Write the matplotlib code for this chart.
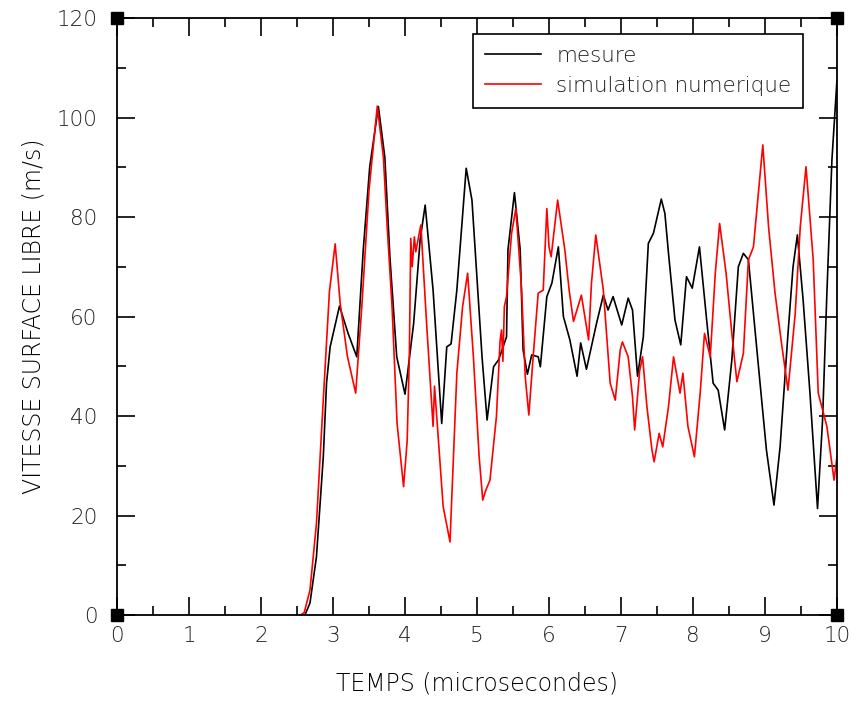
import numpy as np
import matplotlib
matplotlib.use("Agg")
import matplotlib.pyplot as plt
from matplotlib.ticker import MultipleLocator

# mesure (courbe noire)
t_mesure = [2.55, 2.61, 2.68, 2.77, 2.865, 2.91, 2.96, 3.09, 3.21, 3.33, 3.42, 3.51,
            3.63, 3.72, 3.79, 3.885, 4.0, 4.12, 4.21, 4.28, 4.39, 4.51, 4.58, 4.64,
            4.72, 4.85, 4.93, 5.07, 5.14, 5.23, 5.30, 5.41, 5.43, 5.52, 5.60, 5.64,
            5.70, 5.76, 5.85, 5.88, 5.97, 6.04, 6.13, 6.20, 6.29, 6.39, 6.44, 6.52,
            6.66, 6.755, 6.82, 6.89, 7.01, 7.10, 7.16, 7.23, 7.31, 7.38, 7.45, 7.56,
            7.61, 7.66, 7.75, 7.83, 7.91, 7.99, 8.09, 8.19, 8.28, 8.35, 8.44, 8.54,
            8.63, 8.70, 8.77, 8.91, 9.02, 9.125, 9.21, 9.32, 9.39, 9.45, 9.53, 9.625,
            9.73, 9.80, 9.86, 9.93, 10.0]
v_mesure = [0, 0, 2.4, 11.7, 31.8, 46.6, 53.9, 62.1, 56.6, 51.9, 73.4, 90.1,
            102.2, 92, 72, 51.9, 44.4, 58.6, 75.4, 82.4, 65.3, 38.5, 53.9, 54.5,
            65.3, 89.8, 83.4, 51.9, 39.2, 49.9, 51.3, 55.9, 73.4, 84.9, 73.4, 53.3,
            48.4, 52.3, 51.9, 49.9, 64, 66.7, 74, 60, 55.3, 48, 54.7, 49.4,
            58.6, 64.3, 61.3, 64, 58.3, 63.7, 61.3, 48, 55.9, 74.7, 76.7, 83.6,
            80.7, 72.7, 59.3, 54.3, 68, 65.7, 74, 59.3, 46.6, 45.2, 37.2, 51.3,
            70, 72.7, 71.4, 49.9, 33.2, 22.1, 33.8, 56.6, 70, 76.4, 63.3, 44.6,
            21.4, 39.2, 64.7, 91.5, 107.5]

# simulation numerique (courbe rouge)
t_simul = [2.55, 2.60, 2.68, 2.77, 2.86, 2.95, 3.03, 3.10, 3.20, 3.315, 3.40, 3.50,
           3.615, 3.70, 3.75, 3.82, 3.89, 3.98, 4.03, 4.06, 4.08, 4.10, 4.13, 4.15,
           4.22, 4.30, 4.39, 4.41, 4.45, 4.53, 4.625, 4.72, 4.80, 4.87, 4.95, 5.03,
           5.08, 5.12, 5.18, 5.27, 5.32, 5.34, 5.36, 5.38, 5.41, 5.48, 5.54, 5.62,
           5.67, 5.72, 5.78, 5.85, 5.92, 5.97, 6.00, 6.03, 6.12, 6.22, 6.28, 6.34,
           6.45, 6.55, 6.59, 6.65, 6.755, 6.85, 6.92, 6.99, 7.02, 7.10, 7.16, 7.19,
           7.26, 7.30, 7.36, 7.43, 7.46, 7.53, 7.58, 7.66, 7.73, 7.82, 7.86, 7.93,
           8.02, 8.10, 8.16, 8.24, 8.31, 8.37, 8.46, 8.54, 8.61, 8.70, 8.77, 8.84,
           8.97, 9.05, 9.14, 9.23, 9.32, 9.42, 9.49, 9.57, 9.67, 9.74, 9.86, 9.96,
           10.0]
v_simul = [0, 0.5, 5, 18.4, 42, 65, 74.6, 62.6, 52, 44.6, 62, 85.4,
           102.3, 92, 78.7, 62, 38.5, 25.8, 35, 51.9, 75.7, 70, 76, 73,
           78.4, 58.6, 37.9, 46, 38, 21.8, 14.7, 48.6, 62, 68.7, 51.9, 31.8,
           23.1, 25, 27.1, 39.9, 55, 57.3, 51, 62, 64, 76.7, 81.7, 65.3,
           47.9, 40.2, 51.9, 64.7, 65.3, 81.7, 74, 72, 83.4, 73.4, 65.3, 59,
           64.3, 55.3, 66.7, 76.4, 65.3, 46.6, 43.2, 53.3, 54.9, 51.9, 43.9, 37.2,
           49.2, 51.9, 41.9, 33.2, 30.8, 36.5, 33.8, 41.9, 51.9, 44.6, 48.6, 37.9,
           31.8, 44.6, 56.6, 51.9, 68.7, 78.7, 68.7, 56.6, 46.9, 52.6, 71.4, 74,
           94.5, 78, 64.7, 54.6, 45.2, 60.6, 78, 90.1, 71.4, 44.6, 37.9, 27.1,
           31.8]

plt.rcParams['font.family'] = ['DejaVu Sans']
plt.rcParams['font.weight'] = 'light'
plt.rcParams['axes.labelweight'] = 'light'
plt.rcParams['text.color'] = '#222222'

fig = plt.figure(figsize=(8.53, 7.04), dpi=100)
ax = fig.add_axes([0.1372, 0.1264, 0.844, 0.848])

ax.plot(t_mesure, v_mesure, color='black', lw=1.2, label='mesure')
ax.plot(t_simul, v_simul, color='red', lw=1.2, label='simulation numerique')

ax.set_xlim(0, 10)
ax.set_ylim(0, 120)
ax.xaxis.set_major_locator(MultipleLocator(1))
ax.xaxis.set_minor_locator(MultipleLocator(0.5))
ax.yaxis.set_major_locator(MultipleLocator(20))
ax.yaxis.set_minor_locator(MultipleLocator(10))
ax.tick_params(which='both', direction='in', top=True, right=True, width=1.2,
               labelsize=15.5, labelcolor='#222222')
ax.tick_params(which='major', length=13)
ax.tick_params(which='minor', length=6.5)
ax.tick_params(axis='x', which='major', pad=8)
ax.tick_params(axis='y', which='major', pad=14)
for sp in ax.spines.values():
    sp.set_linewidth(1.3)

# petits carres noirs aux coins du cadre
for cx in ax.get_xlim():
    for cy in ax.get_ylim():
        ax.plot(cx, cy, marker='s', color='black', ms=9, clip_on=False, zorder=5)

ax.set_xlabel('TEMPS (microsecondes)', fontsize=17, fontweight='light', labelpad=18)
ax.set_ylabel('VITESSE SURFACE LIBRE (m/s)', fontsize=17, fontweight='light',
              labelpad=8)

leg = ax.legend(loc='upper right', bbox_to_anchor=(0.953, 0.973), frameon=True,
                fancybox=False, edgecolor='black', framealpha=1,
                fontsize=15.5, borderaxespad=0,
                handlelength=2.6, handletextpad=0.7, borderpad=0.55,
                labelspacing=0.45)
leg.get_frame().set_linewidth(1.2)

fig.savefig('out.png', dpi=100)
